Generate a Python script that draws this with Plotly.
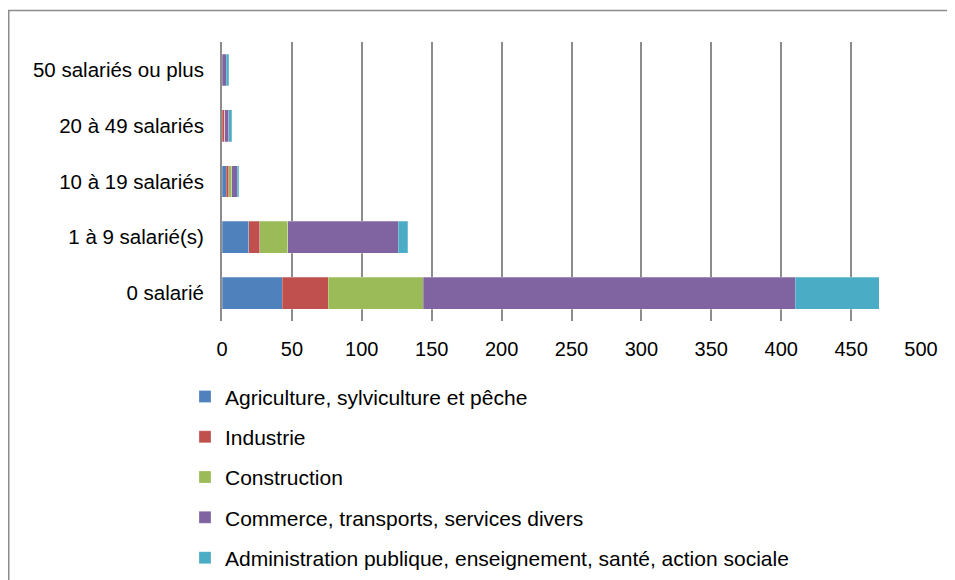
import plotly.graph_objects as go

categories = ["0 salarié", "1 à 9 salarié(s)", "10 à 19 salariés", "20 à 49 salariés", "50 salariés ou plus"]
series_names = [
    "Agriculture, sylviculture et pêche",
    "Industrie",
    "Construction",
    "Commerce, transports, services divers",
    "Administration publique, enseignement, santé, action sociale",
]
agriculture = [43, 19, 3, 0, 0]
industrie = [33, 8, 2, 2, 0]
construction = [68, 20, 2, 0, 0]
commerce = [266, 79, 4, 3, 3]
administration = [60, 7, 1, 2, 2]
x_ticks = [0, 50, 100, 150, 200, 250, 300, 350, 400, 450, 500]

colors = ["#4F81BD", "#C0504D", "#9BBB59", "#8064A2", "#4BACC6"]
values = [agriculture, industrie, construction, commerce, administration]

fig = go.Figure()
for i, (name, vals) in enumerate(zip(series_names, values)):
    fig.add_trace(go.Bar(
        y=categories, x=vals, name=name, orientation="h",
        marker=dict(color=colors[i], line=dict(color="rgba(255,255,255,0.5)", width=0.5)),
        legendgroup=f"g{i}",
    ))

# page has an 8px body margin: figure coords = page coords - 8
OFF = 8
W, H = 955, 580
ml = 222 - OFF
mt = 41.5 - OFF
plot_right = 921 - OFF
plot_bottom = 321.5 - OFF
mr = W - plot_right
mb = H - plot_bottom
pw, ph = W - ml - mr, H - mt - mb

def px_x(page_x):
    return (page_x - OFF - ml) / pw

def px_y(page_y):
    return (plot_bottom - (page_y - OFF)) / ph

fig.update_layout(
    width=W, height=H,
    margin=dict(l=ml, r=mr, t=mt, b=mb, pad=0, autoexpand=False),
    barmode="stack",
    bargap=0.43,
    plot_bgcolor="white",
    paper_bgcolor="white",
    font=dict(family="Liberation Sans, Arial, sans-serif", size=20, color="#000000"),
    xaxis=dict(
        range=[0, 500], tickvals=x_ticks, showgrid=True, gridcolor="#8C8C8C", gridwidth=1.5,
        zeroline=False, showline=False, ticks="", ticklabelstandoff=14,
        tickfont=dict(size=20),
    ),
    yaxis=dict(
        categoryorder="array", categoryarray=categories,
        showline=True, linecolor="#8C8C8C", linewidth=2, ticks="", showgrid=False,
        ticklabelstandoff=12, tickfont=dict(size=20.5),
    ),
    legend=dict(
        x=px_x(185), y=px_y(377), xanchor="left", yanchor="top",
        traceorder="grouped", tracegroupgap=10,
        font=dict(size=21), bgcolor="rgba(0,0,0,0)",
    ),
    showlegend=True,
    shapes=[dict(
        type="rect", xref="paper", yref="paper",
        x0=px_x(8.75), x1=px_x(1000), y0=px_y(640), y1=px_y(10),
        line=dict(color="#8C8C8C", width=1.5), fillcolor="rgba(0,0,0,0)", layer="below",
    )],
)

fig.write_html("out.html")
